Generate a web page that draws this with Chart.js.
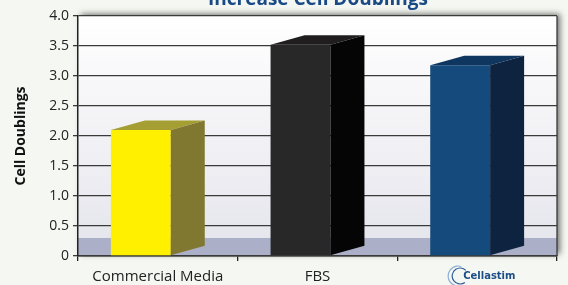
<!DOCTYPE html>
<html>
<head>
<meta charset="utf-8">
<script src="https://cdn.jsdelivr.net/npm/chart.js@4"></script>
<style>
html,body{margin:0;padding:0;background:#f5f8f2;}
#wrap{width:568px;height:285px;position:relative;}
</style>
</head>
<body>
<div id="wrap"><canvas id="c" width="568" height="285"></canvas></div>
<script>
const categories = ["Commercial Media", "FBS", "Cellastim"];
const doublings = [2.1, 3.52, 3.18];
const frontColors = ["#fff000", "#282828", "#154a7c"];
const topColors = ["#a59e32", "#1f1d1d", "#0e365f"];
const sideColors = ["#807830", "#050505", "#0d2340"];
const yTicks = [0, 0.5, 1.0, 1.5, 2.0, 2.5, 3.0, 3.5, 4.0];
const titleText = "Increase Cell Doublings";
const yTitle = "Cell Doublings";

const DX = 34, DY = 9.5;

const bgPlugin = {
  id: 'bg',
  beforeDraw(chart) {
    const {ctx, chartArea: a} = chart;
    ctx.save();
    ctx.fillStyle = '#f5f8f2';
    ctx.fillRect(0, 0, chart.width, chart.height);
    ctx.shadowColor = 'rgba(0,0,0,0.55)';
    ctx.shadowBlur = 6;
    ctx.shadowOffsetX = 3;
    ctx.shadowOffsetY = -2;
    ctx.fillStyle = '#ffffff';
    ctx.fillRect(a.left, a.top, a.right - a.left, a.bottom - a.top);
    ctx.shadowColor = 'transparent';
    const g = ctx.createLinearGradient(0, a.top, 0, a.bottom);
    g.addColorStop(0, '#ffffff');
    g.addColorStop(1, '#e4e4ec');
    ctx.fillStyle = g;
    ctx.fillRect(a.left, a.top, a.right - a.left, a.bottom - a.top);
    const y = chart.scales.y;
    const floorTop = y.getPixelForValue(0) - 18;
    ctx.fillStyle = '#abb0c8';
    ctx.fillRect(a.left, floorTop, a.right - a.left, a.bottom - floorTop);
    ctx.strokeStyle = '#3a3a3a';
    ctx.lineWidth = 1.3;
    ctx.beginPath();
    ctx.moveTo(a.right, a.top);
    ctx.lineTo(a.right, a.bottom);
    ctx.stroke();
    ctx.restore();
  },
  afterDraw(chart) {
    const {ctx} = chart;
    ctx.save();
    ctx.fillStyle = '#1a4a86';
    ctx.font = 'bold 19px "Open Sans", "DejaVu Sans", sans-serif';
    ctx.textAlign = 'center';
    ctx.textBaseline = 'alphabetic';
    ctx.fillText(titleText, 318, 5);
    const x = chart.scales.x.getPixelForValue(2);
    const cy = 276;
    ctx.strokeStyle = '#2a5d9a';
    ctx.lineWidth = 1.2;
    ctx.beginPath();
    ctx.arc(x - 17, cy, 8, Math.PI * 0.3, Math.PI * 1.75);
    ctx.stroke();
    ctx.strokeStyle = '#8fb0d4';
    ctx.beginPath();
    ctx.arc(x - 19, cy, 10, Math.PI * 0.45, Math.PI * 1.6);
    ctx.stroke();
    ctx.fillStyle = '#1d4d86';
    ctx.font = 'bold 10px "DejaVu Sans", sans-serif';
    ctx.textAlign = 'left';
    ctx.textBaseline = 'middle';
    ctx.fillText(categories[2], x - 14, cy);
    ctx.restore();
  }
};

const depthPlugin = {
  id: 'depth',
  afterDatasetsUpdate(chart) {
    const meta = chart.getDatasetMeta(0);
    meta.data.forEach(el => { el.x = el.x - DX / 2; });
  },
  afterDatasetsDraw(chart) {
    const {ctx} = chart;
    const meta = chart.getDatasetMeta(0);
    ctx.save();
    meta.data.forEach((el, i) => {
      const l = el.x - el.width / 2, r = el.x + el.width / 2;
      const t = el.y, b = el.base;
      ctx.fillStyle = topColors[i];
      ctx.beginPath();
      ctx.moveTo(l, t);
      ctx.lineTo(l + DX, t - DY);
      ctx.lineTo(r + DX, t - DY);
      ctx.lineTo(r, t);
      ctx.closePath();
      ctx.fill();
      ctx.fillStyle = sideColors[i];
      ctx.beginPath();
      ctx.moveTo(r, t);
      ctx.lineTo(r + DX, t - DY);
      ctx.lineTo(r + DX, b - DY);
      ctx.lineTo(r, b);
      ctx.closePath();
      ctx.fill();
    });
    ctx.restore();
  }
};

new Chart(document.getElementById('c'), {
  type: 'bar',
  data: {
    labels: categories,
    datasets: [{
      data: doublings,
      backgroundColor: frontColors,
      borderWidth: 0,
      barPercentage: 0.375,
      categoryPercentage: 1.0
    }]
  },
  plugins: [bgPlugin, depthPlugin],
  options: {
    responsive: false,
    animation: false,
    events: [],
    layout: { padding: { top: 16, right: 11, left: 13, bottom: 0 } },
    plugins: { legend: { display: false }, tooltip: { enabled: false }, title: { display: false } },
    scales: {
      x: {
        offset: true,
        grid: { display: true, drawOnChartArea: false, offset: true, color: '#222', tickLength: 5, lineWidth: 1.3 },
        border: { display: true, color: '#222', width: 1.5 },
        ticks: {
          color: '#222',
          font: { family: '"Open Sans", "DejaVu Sans", sans-serif', size: 15 },
          padding: 7,
          callback: function(v, i) { return i === 2 ? '' : categories[i]; }
        },
        afterFit(s) { s.height = 29; }
      },
      y: {
        min: 0, max: 4,
        afterBuildTicks(s) { s.ticks = yTicks.map(v => ({ value: v })); },
        grid: { color: '#3a3a3a', lineWidth: 1.3, tickLength: 5, z: 0 },
        border: { display: true, color: '#222', width: 1.5 },
        ticks: {
          color: '#222',
          font: { family: '"Open Sans", "DejaVu Sans", sans-serif', size: 14 },
          padding: 4,
          callback: v => v === 0 ? '0' : v.toFixed(1)
        },
        title: {
          display: true, text: yTitle, color: '#111',
          font: { family: '"Open Sans", "DejaVu Sans", sans-serif', size: 14, weight: 'bold' },
          padding: { top: 0, bottom: 6 }
        },
        afterFit(s) { s.width = 65; }
      }
    }
  }
});
</script>
</body>
</html>
